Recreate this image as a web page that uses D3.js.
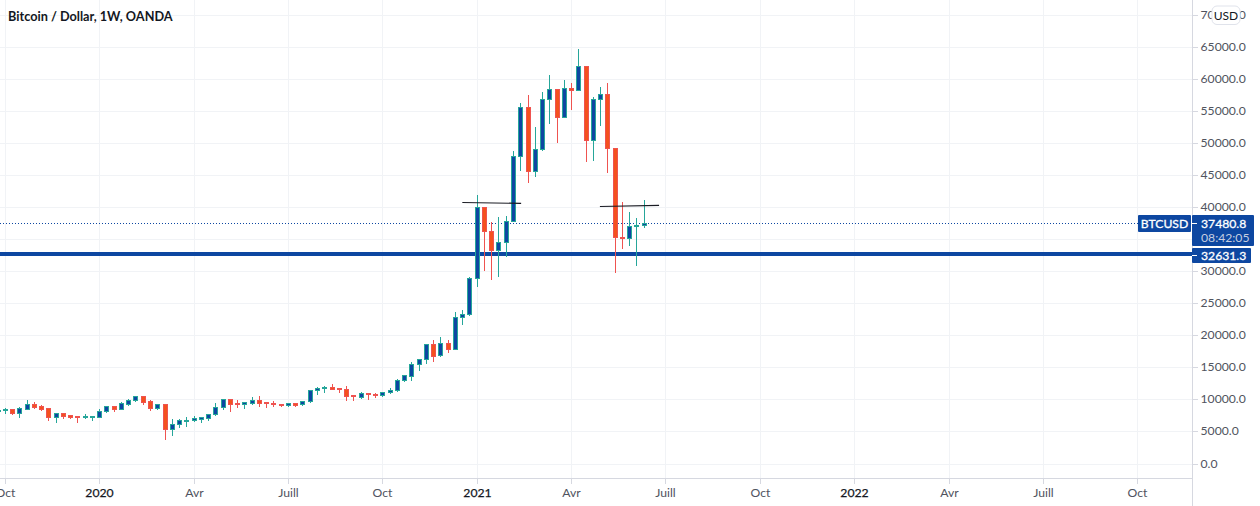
<!DOCTYPE html>
<html><head><meta charset="utf-8">
<script src="https://cdnjs.cloudflare.com/ajax/libs/d3/7.8.5/d3.min.js"></script>
<style>html,body{margin:0;padding:0;background:#fff;overflow:hidden}text{font-family:Lato,"Open Sans",sans-serif}</style>
</head><body><svg id="c" width="1260" height="506"></svg>
<script>
const opens =[8250,8330,8490,7920,8540,9270,8910,8650,7290,7810,7550,7450,7290,7290,7290,8130,8910,8540,9320,9840,10470,9690,8700,9220,5420,6090,6670,6720,6980,7130,7660,8750,10000,
 9375,9220,9480,9840,9580,9430,9270,9170,9370,9220,9690,11400,11720,11870,11770,11560,10620,10420,10990,10830,10620,11090,11400,12970,
 13590,15470,16250,18590,16880,18750,17920,22810,23280,28920,40000,36260,33240,34540,37820,47970,55620,45580,49060,56860,58420,54000,58580,58220,62010,50420,56860,57640,49200,35370,35110,36980,37190];
const closes=[8300,8440,7920,8590,9220,8850,8490,7290,7810,7450,7290,7340,7400,7400,8130,8910,8490,9380,9840,10470,9640,8700,9220,5420,6090,6720,6770,7030,7240,7660,8750,10000,9320,
 9220,9530,9840,9480,9370,9220,9170,9430,9170,9690,11400,11720,11870,11670,11560,10570,10470,10940,10830,10620,11090,11400,12970,13750,
 15470,16250,18590,16820,18750,17920,22810,23280,28910,40000,36200,33240,34540,37820,47960,55620,45580,49060,56860,58420,54000,58580,58220,62010,50420,56860,57640,49170,35320,35110,37040,37190,37480.8];
const highs =[8450,8750,8490,8910,10050,9690,9270,8650,8070,7810,7660,7450,7860,7500,8650,9110,8910,9690,10160,10730,10470,10000,9270,9220,7030,7080,7400,7550,7400,7860,9580,10210,10100,
 10050,9690,10470,10680,9740,9840,9480,9580,9430,9690,11610,12030,12290,12550,11870,12290,10620,11250,11150,11090,11250,11870,13280,13960,
 15990,16460,18800,19430,19900,19430,23800,24110,29270,42080,40210,37870,38650,38800,48940,56450,57700,52700,58160,60820,58420,59980,59570,64870,62010,57380,58940,59570,49200,40940,39430,38490,41300];
const lows  =[8100,7810,7710,7290,8540,8650,8390,6770,6460,7135,7080,6460,7030,6820,7290,8020,8180,8440,9170,9740,9270,8330,8490,3800,4430,5680,5890,6560,6510,6820,7600,8490,8180,
 8750,8650,9270,9010,8800,9010,9010,9010,9010,9170,9630,10880,11200,11610,11200,9950,9900,10210,10050,10420,10470,10990,11350,12860,
 13070,14640,15730,16040,16820,17450,17920,21820,23230,27730,30120,28720,29180,32300,37820,45840,43970,44800,48960,53170,50210,54000,55360,58220,47240,47400,52860,45530,29810,33550,34120,30900,36930];

const yTickValues=[0,5000,10000,15000,20000,25000,30000,35000,40000,45000,50000,55000,60000,65000,70000];
const xTickIndex=[1,14,27,40,53,66,79,92,105,118,131,144,157];
const xTickLabels=["Oct","2020","Avr","Juill","Oct","2021","Avr","Juill","Oct","2022","Avr","Juill","Oct"];
const yearLabels=["2020","2021","2022"];
const hLevel=32631.3, lastPrice=37480.8;
const annotStartIdx=[63.95,82.9], annotEndIdx=[72.05,91.05], annotStartVal=[40800,40180], annotEndVal=[40660,40340];

const W=1260,H=506,plotR=1192,plotB=478;
const x=d3.scaleLinear().domain([0,89]).range([-1.96,644.2]);
const y=d3.scaleLinear().domain([0,70000]).range([464,15.3]);
const px=v=>Math.floor(x(v))+0.5, py=v=>Math.floor(y(v))+0.5;
const svg=d3.select("#c");
const blue="#0d47a1",teal="#26a69a",red="#ef5350",orange="#f4511e",axisCol="#d6d8e0",gridCol="#f1f3f6",txt="#50535e";

const grid=svg.append("g").attr("stroke",gridCol).attr("stroke-width",1).attr("shape-rendering","crispEdges");
grid.selectAll(".h").data(yTickValues).join("line").attr("x1",0).attr("x2",plotR).attr("y1",py).attr("y2",py);
grid.selectAll(".v").data(xTickIndex).join("line").attr("y1",0).attr("y2",plotB).attr("x1",px).attr("x2",px);

svg.append("line").attr("x1",0).attr("x2",1138).attr("y1",py(lastPrice)).attr("y2",py(lastPrice))
  .attr("stroke",blue).attr("stroke-dasharray","1 2").attr("shape-rendering","crispEdges");
svg.append("line").attr("x1",0).attr("x2",plotR).attr("y1",y(hLevel)-.8).attr("y2",y(hLevel)-.8)
  .attr("stroke",blue).attr("stroke-width",4);

const idx=d3.range(opens.length);
const cg=svg.append("g").attr("shape-rendering","crispEdges");
const isUp=i=>closes[i]>=opens[i];
cg.selectAll(".w").data(idx).join("line")
  .attr("x1",i=>px(i)).attr("x2",i=>px(i)).attr("y1",i=>py(highs[i])).attr("y2",i=>py(lows[i]))
  .attr("stroke",i=>isUp(i)?teal:red);
cg.selectAll(".b").data(idx).join("rect")
  .attr("x",i=>px(i)-2).attr("width",4)
  .attr("y",i=>py(Math.max(opens[i],closes[i])))
  .attr("height",i=>Math.max(1,py(Math.min(opens[i],closes[i]))-py(Math.max(opens[i],closes[i]))))
  .attr("fill",i=>isUp(i)?blue:orange)
  .attr("stroke",i=>isUp(i)?teal:red);

svg.selectAll(".a").data(annotStartIdx).join("line")
  .attr("x1",d=>x(d)).attr("y1",(d,i)=>y(annotStartVal[i]))
  .attr("x2",(d,i)=>x(annotEndIdx[i])).attr("y2",(d,i)=>y(annotEndVal[i]))
  .attr("stroke","#1a1c24").attr("stroke-width",1.1);

const ax=svg.append("g").attr("transform",`translate(${plotR+.5},0)`)
  .call(d3.axisRight(y).tickValues(yTickValues).tickSize(5).tickPadding(3).tickFormat(d3.format(".1f")));
const bx=svg.append("g").attr("transform",`translate(0,${plotB+.5})`)
  .call(d3.axisBottom(x).tickValues(xTickIndex).tickSize(5).tickPadding(5).tickFormat((d,i)=>xTickLabels[i]));
[ax,bx].forEach(a=>{
  a.selectAll("path").remove();
  a.selectAll("line").attr("stroke",axisCol).attr("shape-rendering","crispEdges");
  a.selectAll("text").attr("fill",txt).attr("font-size",12.2).attr("font-family","Lato");
});
ax.selectAll(".tick").attr("transform",d=>`translate(0,${py(d)})`);
bx.selectAll(".tick").attr("transform",d=>`translate(${px(d)},0)`);
bx.selectAll("text").filter((d,i)=>yearLabels.includes(xTickLabels[i])).attr("fill","#131722").attr("stroke","#131722").attr("stroke-width",.25);
svg.append("line").attr("x1",plotR+.5).attr("x2",plotR+.5).attr("y1",0).attr("y2",H).attr("stroke",axisCol).attr("shape-rendering","crispEdges");
svg.append("line").attr("x1",0).attr("x2",plotR).attr("y1",plotB+.5).attr("y2",plotB+.5).attr("stroke",axisCol).attr("shape-rendering","crispEdges");

svg.append("text").text("Bitcoin / Dollar, 1W, OANDA").attr("x",8).attr("y",21)
  .attr("font-size",12.7).attr("font-weight",700).attr("fill","#131722");

svg.append("rect").attr("x",1212).attr("y",6).attr("width",28).attr("height",18.5).attr("rx",5)
  .attr("fill","#fff").attr("stroke","#e0e3eb");
svg.append("text").text("USD").attr("x",1226).attr("y",19.5).attr("text-anchor","middle").attr("font-size",12).attr("fill","#131722");

const strong=s=>s.attr("font-size",12.2).attr("fill","#fff").attr("stroke","#fff").attr("stroke-width",.3);
svg.append("rect").attr("x",1138).attr("y",215).attr("width",53).attr("height",17).attr("rx",1).attr("fill",blue);
svg.append("text").text("BTCUSD").attr("x",1164.5).attr("y",228).attr("text-anchor","middle").call(strong);
svg.append("rect").attr("x",1192).attr("y",215).attr("width",62).attr("height",31).attr("rx",1).attr("fill",blue);
svg.append("line").attr("x1",1192).attr("x2",1197).attr("y1",py(lastPrice)).attr("y2",py(lastPrice)).attr("stroke","#fff").attr("shape-rendering","crispEdges");
svg.append("text").text(d3.format(".1f")(lastPrice)).attr("x",1201).attr("y",228).call(strong);
svg.append("text").text("08:42:05").attr("x",1201).attr("y",242).attr("font-size",12.2).attr("fill","#c5cee0");
svg.append("rect").attr("x",1192).attr("y",248).attr("width",59).attr("height",15).attr("rx",1).attr("fill",blue);
svg.append("line").attr("x1",1192).attr("x2",1197).attr("y1",255.5).attr("y2",255.5).attr("stroke","#fff").attr("shape-rendering","crispEdges");
svg.append("text").text(d3.format(".1f")(hLevel)).attr("x",1201).attr("y",260).call(strong);
</script></body></html>
